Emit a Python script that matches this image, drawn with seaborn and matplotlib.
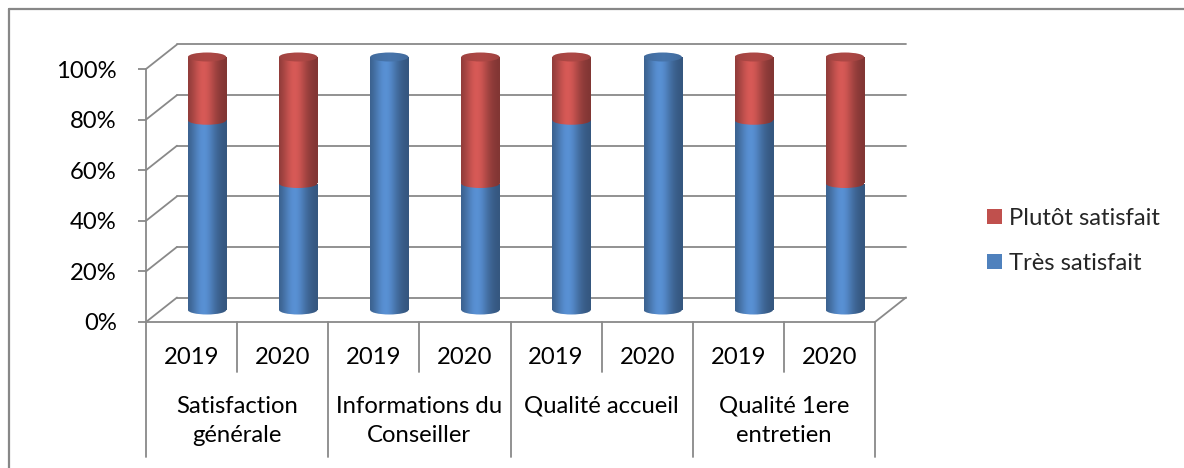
import numpy as np
import pandas as pd
import matplotlib
matplotlib.use("Agg")
import matplotlib.pyplot as plt
import seaborn as sns
from matplotlib.transforms import ScaledTranslation
from matplotlib.patches import Ellipse, Patch, Rectangle
from matplotlib.lines import Line2D

# ---------------- data ----------------
groups = ["Satisfaction\ngénérale", "Informations du\nConseiller", "Qualité accueil", "Qualité 1ere\nentretien"]
years = ["2019", "2020"]
tres_satisfait = [75, 50, 100, 50, 75, 100, 75, 50]
plutot_satisfait = [25, 50, 0, 50, 25, 0, 25, 50]
series_names = ["Très satisfait", "Plutôt satisfait"]
yticks = [0, 20, 40, 60, 80, 100]
ytick_labels = ["0%", "20%", "40%", "60%", "80%", "100%"]

BLUE = (79 / 255, 129 / 255, 189 / 255)
RED = (192 / 255, 80 / 255, 77 / 255)
GRID = "#898989"

sns.set_theme(style="white")
plt.rcParams["font.family"] = ["Lato", "DejaVu Sans"]
FS = 17.2

W, H, DPI = 1184, 468, 100
fig = plt.figure(figsize=(W / DPI, H / DPI), dpi=DPI)
AX_L, AX_R, AX_B, AX_T = 146, 875, 322, 69
AXH = AX_B - AX_T
ax = fig.add_axes([AX_L / W, (H - AX_B) / H, (AX_R - AX_L) / W, AXH / H])

bars = [f"{g}|{y}" for g in groups for y in years]
df = pd.DataFrame({"bar": bars,
                   "tres": tres_satisfait,
                   "total": np.add(tres_satisfait, plutot_satisfait)})

BW = 0.42
n0 = len(ax.patches)
sns.barplot(data=df, x="bar", y="total", order=bars, color=RED, width=BW,
            saturation=1, errorbar=None, ax=ax)
red_patches = ax.patches[n0:]
n1 = len(ax.patches)
sns.barplot(data=df, x="bar", y="tres", order=bars, color=BLUE, width=BW,
            saturation=1, errorbar=None, ax=ax)
blue_patches = ax.patches[n1:]

ax.set_xlim(-0.5, len(bars) - 0.5)
ax.set_ylim(0, 100)

def off(dx, dy):
    return ax.transData + ScaledTranslation(dx / DPI, dy / DPI, fig.dpi_scale_trans)

MID = off(15.5, 12.0)
BACK = off(31.0, 24.5)

# ---------------- walls / gridlines ----------------
for v in yticks:
    ax.plot([-0.5, len(bars) - 0.5], [v, v], color=GRID, lw=1.3, transform=BACK,
            clip_on=False, zorder=0.5)
    p0 = ax.transData.transform((-0.5, v))
    p1 = BACK.transform((-0.5, v))
    fig.add_artist(Line2D([p0[0] / W, p1[0] / W], [p0[1] / H, p1[1] / H],
                          color=GRID, lw=1.3, zorder=0.5))
ax.plot([-0.5, len(bars) - 0.5], [0, 0], color=GRID, lw=1.3, clip_on=False, zorder=0.5)
p0 = ax.transData.transform((len(bars) - 0.5, 0))
p1 = BACK.transform((len(bars) - 0.5, 0))
fig.add_artist(Line2D([p0[0] / W, p1[0] / W], [p0[1] / H, p1[1] / H],
                      color=GRID, lw=1.3, zorder=0.5))

# ---------------- cylinder shading ----------------
def shade(rgb, n=80, lo=0.66, hi=1.12, center=0.40, spread=0.32):
    t = np.linspace(0, 1, n)
    f = lo + (hi - lo) * np.exp(-((t - center) / spread) ** 2)
    cols = np.clip(np.array(rgb)[None, :] * f[:, None], 0, 1)
    return cols[None, :, :]

EH = 9.0 / AXH * 100  # ellipse height in data units

def grad(x0, x1, y0, y1, rgb, clip, z, **kw):
    im = ax.imshow(shade(rgb, **kw), extent=(x0, x1, y0, y1), aspect="auto",
                   interpolation="bilinear", zorder=z, origin="lower")
    im.set_transform(MID)
    im.set_clip_path(clip)
    if not isinstance(clip, Rectangle):
        im.set_clip_box(fig.bbox)
    return im

for i, (rp, bp) in enumerate(zip(red_patches, blue_patches)):
    for p in (rp, bp):
        p.set_transform(MID)
        p.set_clip_on(False)
        p.set_edgecolor("none")
    x0 = bp.get_x()
    w = bp.get_width()
    cx = x0 + w / 2
    t = tres_satisfait[i]
    tot = t + plutot_satisfait[i]
    if t > 0:
        br = Rectangle((x0, 0), w, t, transform=MID)
        grad(x0, x0 + w, 0, t, BLUE, br, 3)
        e = Ellipse((cx, 0), w, EH, transform=MID)
        grad(x0, x0 + w, -EH, EH, BLUE, e, 3)
    if plutot_satisfait[i] > 0:
        rr = Rectangle((x0, t), w, tot - t, transform=MID)
        grad(x0, x0 + w, t, tot, RED, rr, 4)
        e = Ellipse((cx, t), w, EH, transform=MID)
        grad(x0, x0 + w, t - EH, t + EH, RED, e, 4)
        top_rgb = RED
    else:
        top_rgb = BLUE
    cap = Ellipse((cx, tot), w, EH, transform=MID)
    grad(x0, x0 + w, tot - EH, tot + EH, top_rgb, cap, 5, lo=0.74, hi=0.90,
         center=0.5, spread=0.6)

ax.set_xlim(-0.5, len(bars) - 0.5)
ax.set_ylim(0, 100)

# ---------------- axes styling ----------------
for s in ["top", "right", "bottom"]:
    ax.spines[s].set_visible(False)
ax.spines["left"].set_color(GRID)
ax.spines["left"].set_linewidth(1.3)
ax.set_yticks(yticks, ytick_labels)
ax.tick_params(axis="y", length=6, width=1.3, color=GRID, pad=15, labelsize=FS,
               labelcolor="black", left=True)
ax.set_xticks([])
ax.set_xlabel("")
ax.set_ylabel("")
ax.patch.set_alpha(0)

xt = ax.get_xaxis_transform()
for i in range(len(bars)):
    ax.text(i, -(357 - AX_B) / AXH, years[i % 2], transform=xt, ha="center", va="center",
            fontsize=FS, color="black")
for k in range(len(groups)):
    ax.plot([2 * k + 0.5] * 2, [0, -(372 - AX_B) / AXH], transform=xt, color=GRID,
            lw=1.3, clip_on=False)
for k in range(len(groups) + 1):
    ax.plot([2 * k - 0.5] * 2, [0, -(457 - AX_B) / AXH], transform=xt, color=GRID,
            lw=1.3, clip_on=False)
for k, g in enumerate(groups):
    ax.text(2 * k + 0.5, -(396 - AX_B) / AXH, g, transform=xt, ha="center", va="top",
            fontsize=FS, color="black", linespacing=1.45)

# ---------------- legend ----------------
handles = [Patch(facecolor=RED, edgecolor="none"), Patch(facecolor=BLUE, edgecolor="none")]
fig.legend(handles, [series_names[1], series_names[0]], loc="center left",
           bbox_to_anchor=(987 / W, (H - 241) / H), frameon=False, fontsize=FS,
           borderpad=0, handlelength=0.62, handleheight=0.62, handletextpad=0.3,
           labelspacing=1.0, borderaxespad=0)

# ---------------- chart border ----------------
fig.add_artist(Line2D([8.5 / W, 8.5 / W], [0, (H - 9) / H], color="#878787", lw=1.6))
fig.add_artist(Line2D([8.5 / W, 1], [(H - 9) / H, (H - 9) / H], color="#878787", lw=1.6))

fig.savefig("out.png", dpi=DPI)
